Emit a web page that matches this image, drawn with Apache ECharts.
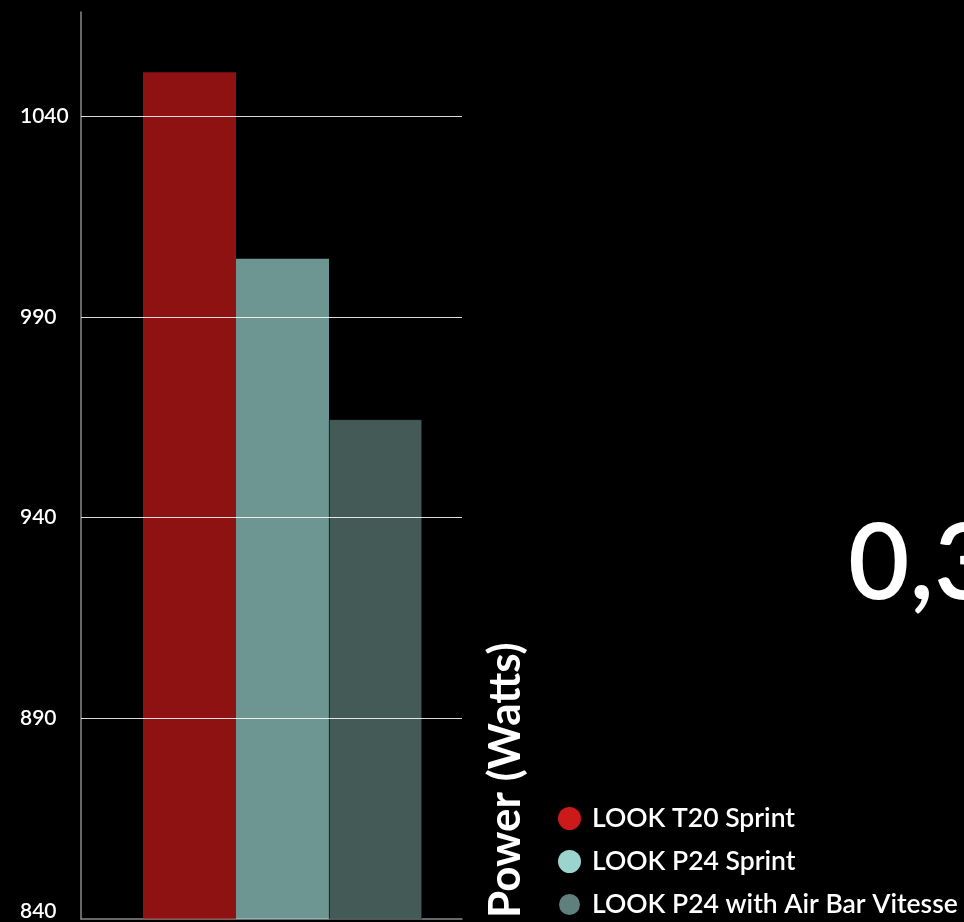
<!DOCTYPE html>
<html>
<head>
<meta charset="utf-8">
<script src="https://cdn.jsdelivr.net/npm/echarts@6/dist/echarts.min.js"></script>
<style>
html,body{margin:0;padding:0;background:#000;}
#c{width:964px;height:922px;}
</style>
</head>
<body>
<div id="c"></div>
<script>
const categories = [''];
const seriesNames = ['LOOK T20 Sprint', 'LOOK P24 Sprint', 'LOOK P24 with Air Bar Vitesse'];
const t20Sprint = [1051];
const p24Sprint = [1004.5];
const p24AirBar = [964.5];
const yTicks = [840, 890, 940, 990, 1040];
const bigText = '0,3';
const axisTitle = 'Power (Watts)';

const colors = ['#cc1a1a', '#9bd4cf', '#5f807c'];
const font = 'Lato, "Open Sans", sans-serif';

const chart = echarts.init(document.getElementById('c'));
chart.setOption({
  backgroundColor: '#000',
  animation: false,
  grid: { left: 81, right: 502, top: 12, bottom: 3, containLabel: false },
  xAxis: {
    type: 'category', data: categories,
    axisLine: { lineStyle: { color: '#8a8a8a', width: 1.5 } },
    axisTick: { show: false }, axisLabel: { show: false }
  },
  yAxis: {
    type: 'value', min: 840, max: 1066, interval: 50,
    axisLine: { show: true, lineStyle: { color: '#8a8a8a', width: 1.5 } },
    axisTick: { show: false },
    splitLine: { show: false },
    axisLabel: {
      color: '#fff', fontSize: 21, fontFamily: font, fontWeight: 600,
      margin: 61, align: 'left', verticalAlign: 'middle',
      showMaxLabel: false,
      formatter: v => (v === yTicks[0] ? '{low|' + v + '}' : String(v)),
      rich: { low: { color: '#fff', fontSize: 21, fontFamily: font, fontWeight: 600, padding: [0, 0, 16, 0] } }
    }
  },
  legend: {
    orient: 'vertical', left: 557, top: 805, height: 200, padding: 0,
    data: seriesNames,
    icon: 'circle', itemWidth: 23, itemHeight: 23, itemGap: 16,
    itemStyle: { opacity: 1 },
    textStyle: { color: '#fff', fontSize: 26.5, fontFamily: font, fontWeight: 600, padding: [0, 0, 0, 6] }
  },
  series: [
    { type: 'bar', name: '_spacer', data: ['-'], barWidth: 22, barGap: 0 },
    { type: 'bar', name: seriesNames[0], data: t20Sprint, barWidth: 93, barGap: 0,
      itemStyle: { color: colors[0], opacity: 0.7 } },
    { type: 'bar', name: seriesNames[1], data: p24Sprint, barWidth: 93, barGap: 0,
      itemStyle: { color: colors[1], opacity: 0.7 } },
    { type: 'bar', name: seriesNames[2], data: p24AirBar, barWidth: 93, barGap: 0,
      itemStyle: { color: colors[2], opacity: 0.7, borderColor: '#000', borderWidth: 0.6 },
      markLine: {
        silent: true, symbol: 'none', label: { show: false },
        lineStyle: { color: 'rgba(255,255,255,0.85)', width: 1, type: 'solid' },
        data: yTicks.filter(v => v > yTicks[0]).map(v => ({ yAxis: v }))
      }
    }
  ],
  graphic: [
    { type: 'text', left: 484, bottom: 4, rotation: Math.PI / 2,
      style: { text: axisTitle, fill: '#fff', fontSize: 44, fontWeight: 'bold', fontFamily: font } },
    { type: 'text', left: 848, top: 512,
      style: { text: bigText, fill: '#fff', fontSize: 106, fontWeight: 600, fontFamily: font } }
  ]
});
</script>
</body>
</html>
